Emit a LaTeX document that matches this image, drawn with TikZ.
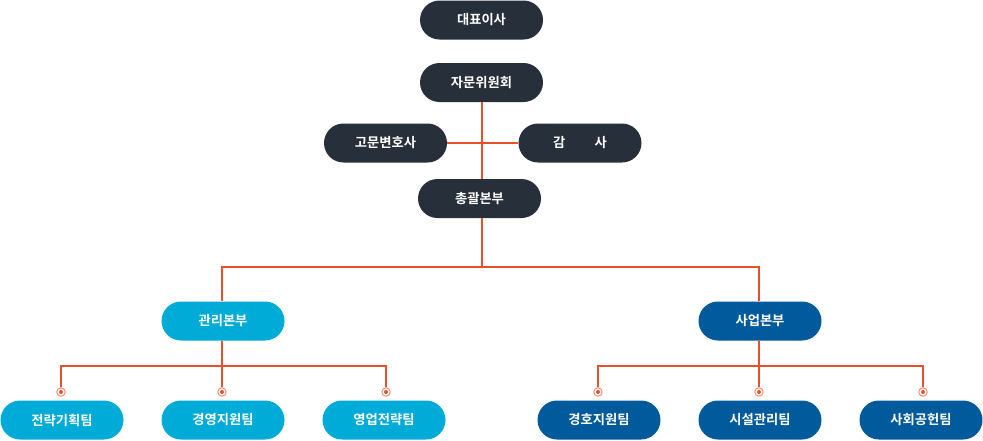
\documentclass[tikz,border=0pt]{standalone}
\usepackage{fontspec}
\newfontfamily\kr{Noto Sans CJK KR}[BoldFont={* Bold}]
\usetikzlibrary{shapes.misc}
\definecolor{navy}{HTML}{272F3B}
\definecolor{cyanbox}{HTML}{00ACD7}
\definecolor{bluebox}{HTML}{005A9C}
\definecolor{lineor}{HTML}{E8502A}
\definecolor{ringor}{HTML}{F28A6A}
\tikzset{
  pill/.style={rounded rectangle, minimum width=123pt, minimum height=39pt, inner sep=0pt, text=white, font=\kr\bfseries\fontsize{13.3}{15}\selectfont},
  topbox/.style={pill, fill=navy},
  midbox/.style={pill, fill=cyanbox},
  rightbox/.style={pill, fill=bluebox},
  conn/.style={draw=lineor, line width=1.1pt},
  ring/.style={circle, draw=ringor, fill=white, line width=0.9pt, minimum size=8.5pt, inner sep=0pt, path picture={\fill[lineor] (path picture bounding box.center) circle (2pt);}}
}
\begin{document}
\begin{tikzpicture}[x=1pt,y=-1pt]
\useasboundingbox (0,0) rectangle (983,440);
% top level
\node[topbox] (ceo) at (481.5,20) {대표이사};
\node[topbox] (adv) at (481.5,82.5) {자문위원회};
\node[topbox] (law) at (385.5,143) {고문변호사};
\node[topbox] (aud) at (580,143) {감\hspace{2.2em}사};
\node[topbox] (gen) at (479.5,198.5) {총괄본부};
% divisions
\node[midbox] (mgmt) at (223,321) {관리본부};
\node[rightbox] (biz) at (760,321) {사업본부};
% teams
\node[midbox] (t1) at (62,420) {전략기획팀};
\node[midbox] (t2) at (223,420) {경영지원팀};
\node[midbox] (t3) at (384,420) {영업전략팀};
\node[rightbox] (t4) at (599,420) {경호지원팀};
\node[rightbox] (t5) at (760,420) {시설관리팀};
\node[rightbox] (t6) at (921,420) {사회공헌팀};
% rings
\node[ring] (r1) at (61,392) {};
\node[ring] (r2) at (222,392) {};
\node[ring] (r3) at (386,392) {};
\node[ring] (r4) at (598,392) {};
\node[ring] (r5) at (759,392) {};
\node[ring] (r6) at (923,392) {};
% coordinates
\coordinate (split) at (482,267);
\coordinate (lsplit) at (222,366);
\coordinate (rsplit) at (759,366);
% connectors
\draw[conn] (adv.south -| split) -- (gen.north -| split);
\draw[conn] (gen.south -| split) -- (split);
\draw[conn] (law.east) -- (aud.west);
\draw[conn] (split) -| (mgmt.north -| lsplit);
\draw[conn] (split) -| (biz.north -| rsplit);
\draw[conn] (mgmt.south -| lsplit) -- (r2.north);
\draw[conn] (lsplit) -| (r1.north);
\draw[conn] (lsplit) -| (r3.north);
\draw[conn] (biz.south -| rsplit) -- (r5.north);
\draw[conn] (rsplit) -| (r4.north);
\draw[conn] (rsplit) -| (r6.north);
\end{tikzpicture}
\end{document}
